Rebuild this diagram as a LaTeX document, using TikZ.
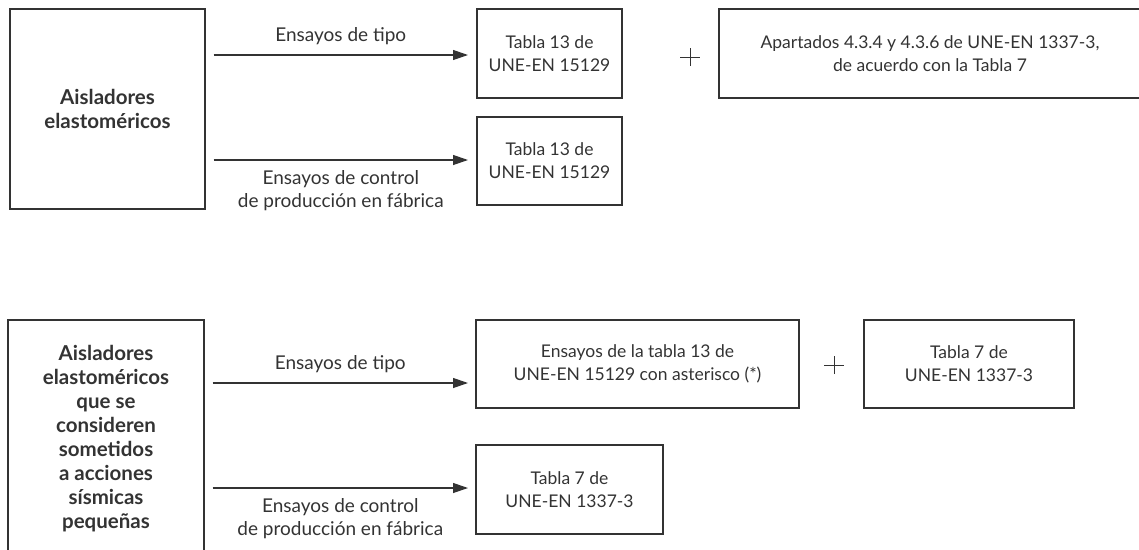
\documentclass[tikz,border=0pt]{standalone}
\usepackage{fontspec}
\setmainfont{Lato}
\usetikzlibrary{arrows.meta}
\definecolor{gris}{HTML}{333333}
\tikzstyle{caja} = [draw=gris, line width=1.2pt, align=center, inner sep=0pt, text=gris, font=\fontsize{17.5}{23}\selectfont]
\tikzstyle{cajab} = [caja, font=\fontsize{20.5}{24}\selectfont\bfseries]
\tikzstyle{flecha} = [draw=gris, line width=1.2pt, -{Triangle[length=15pt,width=10pt]}]
\tikzstyle{rotulo} = [text=gris, align=center, inner sep=0pt, font=\fontsize{19}{23}\selectfont]
\tikzstyle{mas} = [draw=gris, line width=1pt]

\begin{document}
\begin{tikzpicture}[x=1pt, y=-1pt]
  \useasboundingbox (0,0) rectangle (1139,549);
  \clip (0,0) rectangle (1139,549);
  % aisladores elastomericos
  \node[cajab, minimum width=195pt, minimum height=200pt] (ais1) at (107.5,109) {Aisladores\\elastoméricos};
  \node[caja, minimum width=145pt, minimum height=89pt] (tab1) at (549.5,53.5) {Tabla 13 de\\UNE-EN 15129};
  \node[caja, minimum width=422pt, minimum height=89pt] (apart) at (930,53.5) {Apartados 4.3.4 y 4.3.6 de UNE-EN 1337-3,\\de acuerdo con la Tabla 7};
  \node[caja, minimum width=145pt, minimum height=88pt] (tab2) at (549.5,161) {Tabla 13 de\\UNE-EN 15129};
  \coordinate (mas1) at (690,57);
  \draw[mas] ([xshift=-10pt]mas1) -- ([xshift=10pt]mas1) ([yshift=-9pt]mas1) -- ([yshift=9pt]mas1);
  \coordinate (f1) at (468,55);
  \coordinate (f2) at (468,160);
  \draw[flecha] ([xshift=8pt]ais1.east |- f1) -- node[rotulo, midway, above=10pt] {Ensayos de tipo} (f1);
  \draw[flecha] ([xshift=8pt]ais1.east |- f2) -- node[rotulo, midway, below=10pt] {Ensayos de control\\de producción en fábrica} (f2);

  % aisladores en acciones sismicas pequenas
  \node[cajab, minimum width=196pt, minimum height=238pt] (ais2) at (106,439) {Aisladores\\elastoméricos\\que se\\consideren\\sometidos\\a acciones\\sísmicas\\pequeñas};
  \node[caja, minimum width=323pt, minimum height=88pt] (tab3) at (637.5,364) {Ensayos de la tabla 13 de\\UNE-EN 15129 con asterisco (*)};
  \node[caja, minimum width=210pt, minimum height=88pt] (tab4) at (969,364) {Tabla 7 de\\UNE-EN 1337-3};
  \node[caja, minimum width=187pt, minimum height=89pt] (tab5) at (569.5,489.5) {Tabla 7 de\\UNE-EN 1337-3};
  \coordinate (mas2) at (834,365);
  \draw[mas] ([xshift=-10pt]mas2) -- ([xshift=10pt]mas2) ([yshift=-9pt]mas2) -- ([yshift=9pt]mas2);
  \coordinate (f3) at (468,383);
  \coordinate (f4) at (468,488);
  \draw[flecha] ([xshift=8pt]ais2.east |- f3) -- node[rotulo, midway, above=10pt] {Ensayos de tipo} (f3);
  \draw[flecha] ([xshift=8pt]ais2.east |- f4) -- node[rotulo, midway, below=10pt] {Ensayos de control\\de producción en fábrica} (f4);
\end{tikzpicture}
\end{document}
